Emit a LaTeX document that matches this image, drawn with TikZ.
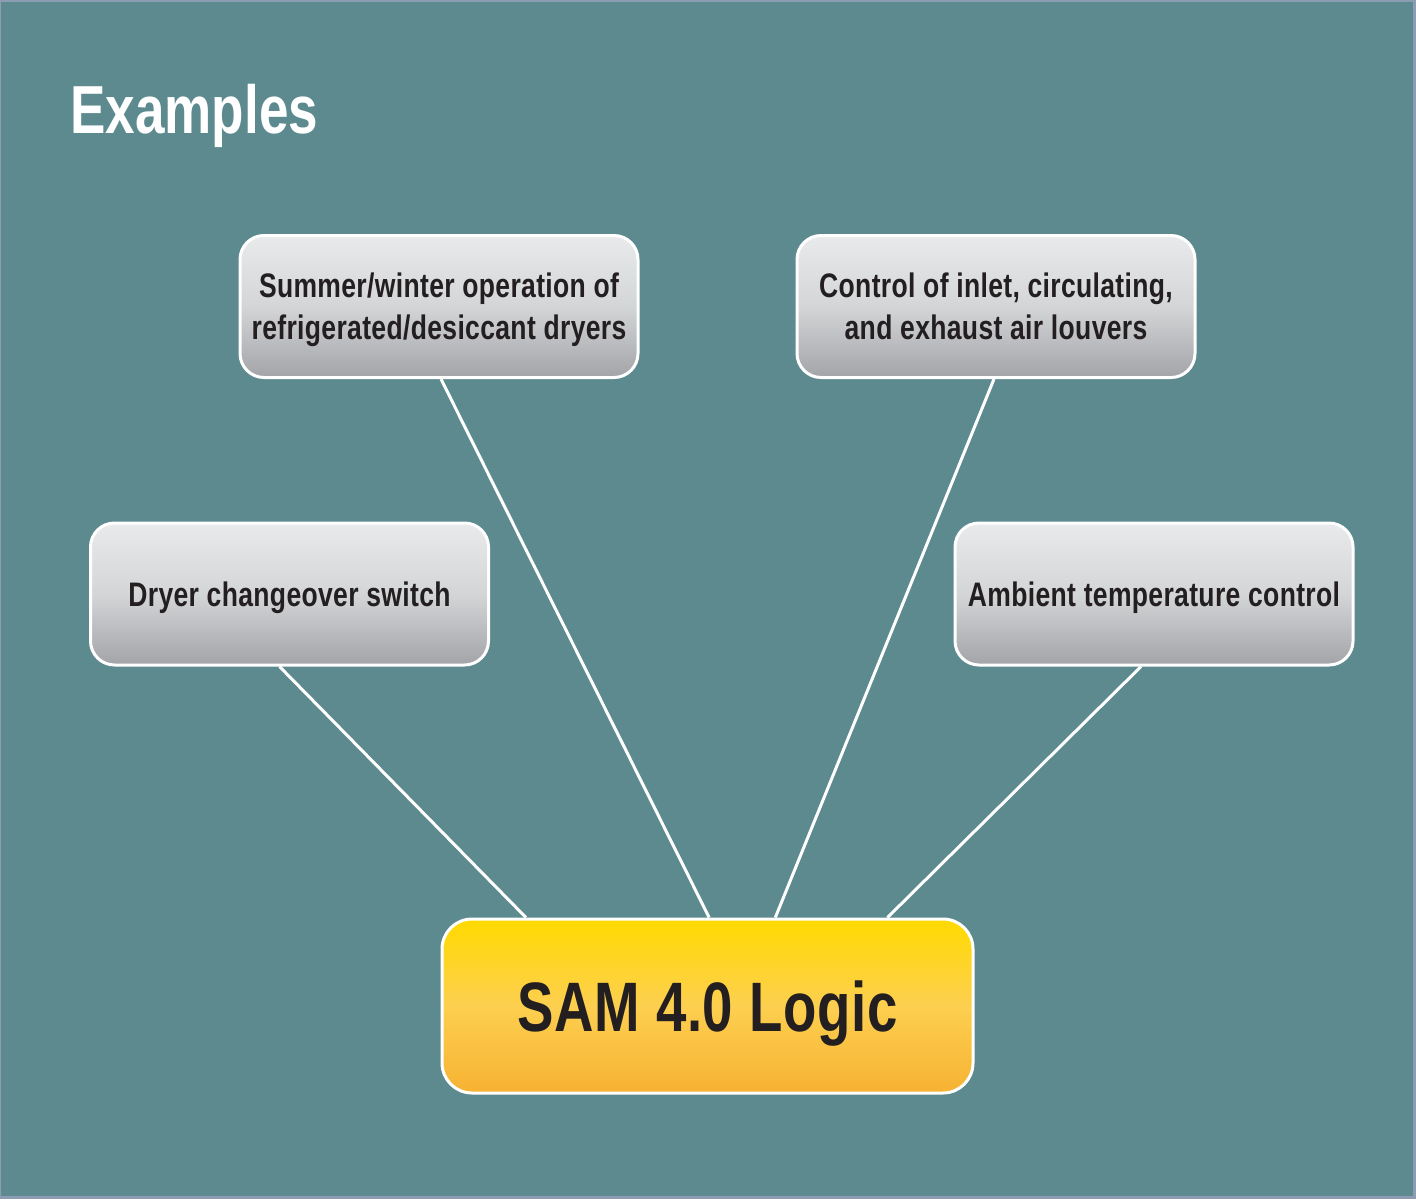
\documentclass[tikz,border=0pt]{standalone}
\usepackage{fontspec}
\newfontfamily\condfont[FakeStretch=0.78]{Liberation Sans}
\newfontfamily\boxfont[FakeStretch=0.78, LetterSpace=1.0]{Liberation Sans}
\usetikzlibrary{calc}
\definecolor{bgteal}{RGB}{92,138,143}
\definecolor{framecol}{RGB}{140,157,179}
\definecolor{boxtop}{RGB}{233,234,235}
\definecolor{boxmid}{RGB}{212,213,215}
\definecolor{boxbot}{RGB}{163,164,168}
\definecolor{logictop}{RGB}{255,218,0}
\definecolor{logicmid}{RGB}{253,207,80}
\definecolor{logicbot}{RGB}{247,178,50}
\definecolor{inktext}{RGB}{35,31,32}

\begin{document}
\begin{tikzpicture}[x=0.5pt,y=-0.5pt,
    example/.style={draw=white, line width=1.5pt, rounded corners=12pt,
      minimum width=199pt, minimum height=71pt, inner sep=0pt, align=center,
      text depth=0pt, top color=boxtop, bottom color=boxbot, middle color=boxmid,
      text=inktext, font=\boxfont\bfseries\fontsize{17}{21}\selectfont},
    link/.style={draw=white, line width=1.5pt}]
    % frame and background
    \fill[framecol] (0,0) rectangle (1416,1199);
    \fill[bgteal] (1,2) rectangle (1413,1196);
    \node[anchor=base west, inner sep=0pt, text=white,
      font=\condfont\bfseries\fontsize{34}{40}\selectfont] (title) at (70,133) {Examples};
    % boxes
    \node[example] (dryers) at (439,306.5) {Summer/winter operation of\\refrigerated/desiccant dryers};
    \node[example] (louvers) at (996,306.5) {Control of inlet, circulating,\\and exhaust air louvers};
    \node[example] (switch) at (289.5,594) {Dryer changeover switch};
    \node[example] (ambient) at (1154,594) {Ambient temperature control};
    \node[draw=white, line width=1.5pt, rounded corners=15pt, minimum width=265.5pt,
      minimum height=87pt, inner sep=0pt, text depth=0pt, top color=logictop,
      bottom color=logicbot, middle color=logicmid, text=inktext,
      font=\boxfont\bfseries\fontsize{35}{40}\selectfont] (logic) at (707.5,1006) {SAM 4.0 Logic};
    % connectors
    \foreach \f/\n in {0.16/a, 0.503/b, 0.627/c, 0.837/d}
      \coordinate (\n) at ($(logic.north west)!\f!(logic.north east)$);
    \draw[link] ([xshift=-5pt]switch.south) -- (a);
    \draw[link] ([xshift=1pt]dryers.south) -- (b);
    \draw[link] ([xshift=-1pt]louvers.south) -- (c);
    \draw[link] ([xshift=-6.5pt]ambient.south) -- (d);
\end{tikzpicture}
\end{document}
